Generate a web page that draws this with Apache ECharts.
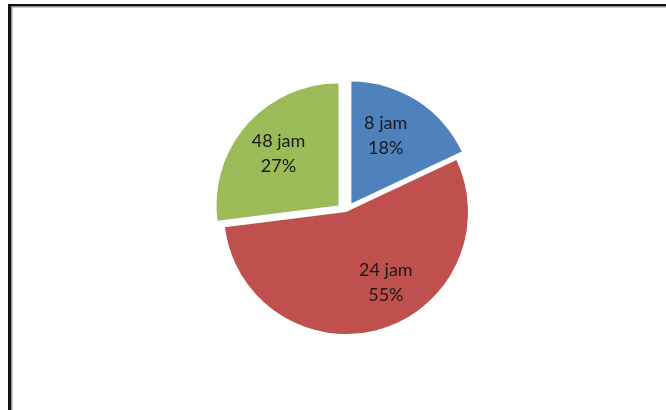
<!DOCTYPE html>
<html>
<head>
<meta charset="utf-8">
<script src="https://cdn.jsdelivr.net/npm/echarts@6/dist/echarts.min.js"></script>
<style>html,body{margin:0;padding:0;background:#fff;}#c{width:666px;height:410px;}</style>
</head>
<body>
<div id="c"></div>
<script>
var categories = ['8 jam', '24 jam', '48 jam'];
var values = [18, 55, 27];
var colors = ['#4F81BD', '#C0504D', '#9BBB59'];
var exploded = [true, false, true];

var labelShift = [[0, -14], [22, 9], [-12, -9]];

var chart = echarts.init(document.getElementById('c'), null, {renderer: 'canvas'});
chart.setOption({
  animation: false,
  backgroundColor: '#ffffff',
  graphic: [
    {type: 'rect', shape: {x: 8, y: 4, width: 700, height: 2.5}, style: {fill: '#111'}, silent: true},
    {type: 'rect', shape: {x: 11, y: 6.5, width: 700, height: 1}, style: {fill: '#9a9a9a'}, silent: true},
    {type: 'rect', shape: {x: 8, y: 4, width: 3, height: 500}, style: {fill: '#111'}, silent: true},
    {type: 'rect', shape: {x: 11, y: 6.5, width: 1.5, height: 500}, style: {fill: '#9a9a9a'}, silent: true}
  ],
  series: [{
    type: 'pie',
    center: [346, 212],
    radius: 122,
    startAngle: 90,
    clockwise: true,
    selectedMode: 'multiple',
    selectedOffset: 10,
    avoidLabelOverlap: false,
    label: {
      show: true,
      position: 'inside',
      formatter: function (p) { return p.name + '\n' + p.value + '%'; },
      fontFamily: 'Lato',
      fontSize: 18,
      lineHeight: 25,
      color: '#1a1a1a'
    },
    labelLine: {show: false},
    labelLayout: function (p) {
      var s = labelShift[p.dataIndex];
      return {dx: s[0], dy: s[1]};
    },
    emphasis: {disabled: true},
    itemStyle: {borderWidth: 0},
    data: categories.map(function (c, i) {
      return {name: c, value: values[i], selected: exploded[i], itemStyle: {color: colors[i]}};
    })
  }]
});
</script>
</body>
</html>
